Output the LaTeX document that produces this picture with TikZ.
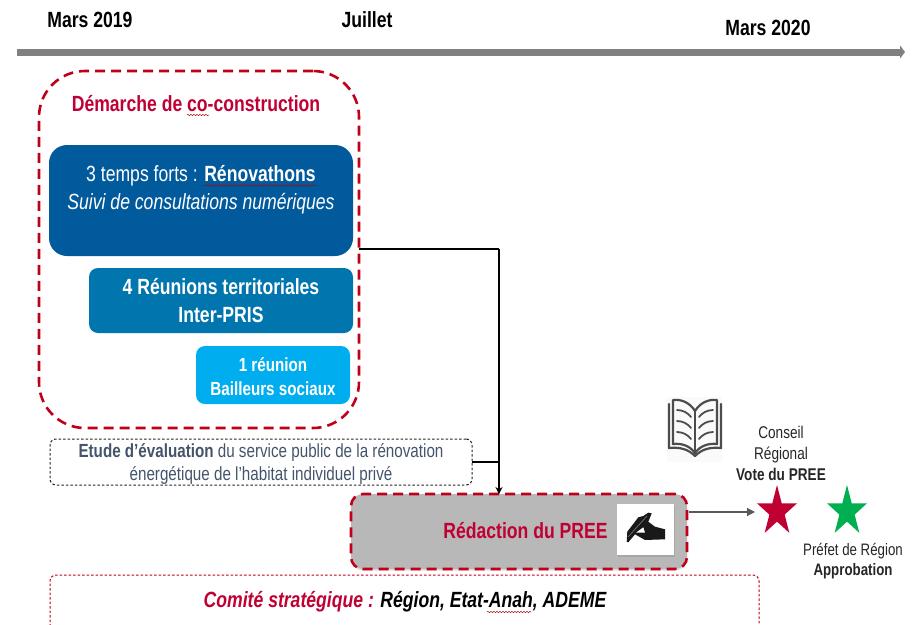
\documentclass[tikz,border=0pt]{standalone}
\usepackage{fontspec}
\setmainfont[FakeStretch=0.8]{Liberation Sans}
\usetikzlibrary{shapes.geometric,arrows.meta,decorations.pathmorphing,shadows}
\definecolor{crim}{HTML}{C00033}
\definecolor{dashred}{HTML}{C00018}
\definecolor{slate}{HTML}{44546A}
\definecolor{bluea}{HTML}{005A9C}
\definecolor{blueb}{HTML}{0075AE}
\definecolor{bluec}{HTML}{00AEEF}
\definecolor{stargreen}{HTML}{00B050}
\tikzset{
  every node/.style={inner sep=0pt,outer sep=0pt,align=center},
  datelabel/.style={font=\bfseries\fontsize{22}{24}\selectfont,text=black},
  reddash/.style={draw=dashred,line width=2.6pt,dash pattern=on 10pt off 6pt,rounded corners=#1},
  thindash/.style={rounded corners=6pt,line width=1pt,dash pattern=on 2.5pt off 2pt},
  link/.style={draw=black,line width=1.5pt},
  squig/.style={draw=red!70!black,line width=.5pt,decorate,decoration={snake,amplitude=.6pt,segment length=3pt}},
  starnode/.style={star,star points=5,star point ratio=2.618,minimum size=42pt,fill=#1,inner sep=0pt,yscale=1.26,transform shape},
  smalltext/.style={font=\fontsize{17}{21}\selectfont,text=black!85},
}
\begin{document}
\begin{tikzpicture}[x=1pt,y=-1pt]
\useasboundingbox (0,0) rectangle (913,624);
% timeline
\coordinate (tlstart) at (17,52);
\coordinate (tlend) at (905,52);
\draw[draw=black!50,line width=7pt,-{Triangle[length=5pt,width=13pt]}] (tlstart) -- (tlend);
\node[datelabel] (d1) at (90,20) {Mars 2019};
\node[datelabel] (d2) at (367,20) {Juillet};
\node[datelabel] (d3) at (768,28) {Mars 2020};
% co-construction frame
\node[reddash=46pt,minimum width=320pt,minimum height=357pt] (big) at (199,249.5) {};
\node[font=\bfseries\fontsize{22}{24}\selectfont,text=crim] (cotitle) at (196,104) {Démarche de co-construction};
\draw[squig] (187,115) -- (209,115);
% blue boxes
\node[fill=bluea,rounded corners=18pt,minimum width=304pt,minimum height=111pt] (b1) at (201,200.5) {};
\node[text=white,font=\fontsize{22}{28}\selectfont] (b1t) at (201,189.5) {3 temps forts : \textbf{Rénovathons}\\\textit{Suivi de consultations numériques}};
\draw[squig] (204,185.5) -- (316,185.5);
\node[fill=blueb,rounded corners=9pt,text=white,font=\bfseries\fontsize{22}{28}\selectfont,minimum width=264pt,minimum height=65pt] (b2) at (221,300.5) {4 Réunions territoriales\\Inter-PRIS};
\node[fill=bluec,rounded corners=9pt,minimum width=154pt,minimum height=58pt] (b3) at (273,375) {};
\node[text=white,font=\bfseries\fontsize{19}{24}\selectfont] (b3t) at (273,376.5) {1 réunion\\Bailleurs sociaux};
% etude
\node[draw=black!85,thindash,minimum width=422pt,minimum height=46pt] (etude) at (261,462) {};
\node[text=slate,font=\fontsize{19}{23}\selectfont] (etudet) at (261,463.5) {\textbf{Etude d’évaluation} du service public de la rénovation\\énergétique de l’habitat individuel privé};
% redaction
\node[fill=black!28,reddash=12pt,minimum width=336pt,minimum height=75pt,drop shadow={shadow xshift=0pt,shadow yshift=-1.5pt,opacity=.25}] (redac) at (519,531.5) {};
\node[font=\bfseries\fontsize{22}{24}\selectfont,text=crim] (redt) at (525.5,531) {Rédaction du PREE};
\node[fill=white,minimum width=57pt,minimum height=51pt,drop shadow={shadow xshift=1pt,shadow yshift=-1.5pt,opacity=.3}] (penbox) at (645.5,529.5) {};
% hand icon
\fill[black!90] (626.7,541.7) -- (627.3,531.7) -- (638.3,517.3) -- (643.3,516) -- (648.3,512.7) -- (651.7,513.3) -- (648.3,521.7) -- (655,526.7) -- (665,529.3) -- (665,539.3) -- (645,540) -- (635,534.3) -- (628.3,542.3) -- cycle;
\fill[white] (636,532.7) -- (643.3,527.3) -- (645,532.7) -- cycle;
\draw[black!55,line width=.7pt] (628,537) -- (647,516);
% comite
\draw[draw=dashred,line width=1pt,dash pattern=on 2.5pt off 2pt,rounded corners=6pt] (50,640) -- (50,575) -- (759,575) -- (759,640);
\node[font=\bfseries\itshape\fontsize{22}{24}\selectfont,text=black] (comt) at (405,601.5) {\textcolor{crim}{Comité stratégique :} Région, Etat-Anah, ADEME};
\draw[squig] (487,612) -- (531,612);
% connectors
\coordinate (elbow) at (499,249);
\draw[link] (big.east |- elbow) -- (elbow);
\draw[link,-{Stealth[length=7pt,width=7pt]}] (elbow) -- (elbow |- redac.north);
\draw[link] (etude.east) -- (etude.east -| elbow);
% stars
\node[starnode=crim] (s1) at (777,511.5) {};
\node[starnode=stargreen] (s2) at (847,511.5) {};
\coordinate (arrowend) at (755,512);
\draw[draw=black!65,line width=1.2pt,-{Triangle[length=8pt,width=8pt]}] (redac.east |- arrowend) ++(2,0) -- (arrowend);
% labels
\node[smalltext] (conseil) at (781,453.5) {Conseil\\Régional\\\textbf{Vote du PREE}};
\node[smalltext,font=\fontsize{16.6}{20}\selectfont] (prefet) at (853,561) {Préfet de Région\\\textbf{Approbation}};
% book icon
\fill[black!2] (667,397) rectangle (722,462);
\begin{scope}[draw=black!70,line width=2.2pt,line join=round,line cap=round]
\draw (695,456) .. controls (688,449) and (680,447) .. (669,448) -- (669,404);
\draw (695,456) .. controls (702,449) and (710,447) .. (721,448) -- (721,404);
\draw (673,400) .. controls (682,399) and (690,403) .. (695,411) .. controls (700,403) and (708,399) .. (717,400) -- (717,444) .. controls (708,443) and (700,446) .. (695,453) .. controls (690,446) and (682,443) .. (673,444) -- cycle;
\draw (695,411) -- (695,453);
\draw[line width=1.8pt] (677,410) .. controls (683,410) and (688,413) .. (691,417);
\draw[line width=1.8pt] (677,421) .. controls (683,421) and (688,424) .. (691,428);
\draw[line width=1.8pt] (677,432) .. controls (683,432) and (688,435) .. (691,439);
\draw[line width=1.8pt] (713,410) .. controls (707,410) and (702,413) .. (699,417);
\draw[line width=1.8pt] (713,421) .. controls (707,421) and (702,424) .. (699,428);
\draw[line width=1.8pt] (713,432) .. controls (707,432) and (702,435) .. (699,439);
\end{scope}
\end{tikzpicture}
\end{document}
